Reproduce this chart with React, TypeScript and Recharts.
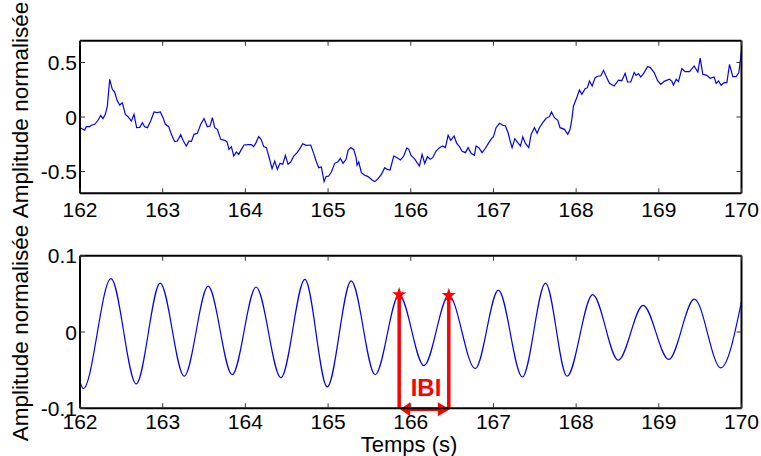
import { ComposedChart, Line, XAxis, YAxis, ReferenceLine, ReferenceDot } from 'recharts';

const FONT = '"Liberation Sans", Arial, Helvetica, sans-serif';
const BLUE = '#0000ff';
const RED = '#ff0000';
const TICK_LEN = 5;

// time axis (s)
const timeDomain = [162, 170];
const timeTicks = [162, 163, 164, 165, 166, 167, 168, 169, 170];

// top panel: raw signal
const rawDomain = [-0.7, 0.7];
const rawTicks = [-0.5, 0, 0.5];
const rawTime = [
  162.0, 162.056, 162.077, 162.117, 162.137, 162.177, 162.218, 162.25, 162.278, 162.306,
  162.331, 162.359, 162.391, 162.419, 162.448, 162.48, 162.512, 162.548, 162.581, 162.621,
  162.653, 162.685, 162.722, 162.754, 162.782, 162.815, 162.855, 162.895, 162.935, 162.972,
  163.004, 163.032, 163.073, 163.105, 163.145, 163.177, 163.218, 163.25, 163.286, 163.319,
  163.347, 163.379, 163.419, 163.46, 163.5, 163.54, 163.573, 163.601, 163.629, 163.661,
  163.702, 163.75, 163.778, 163.802, 163.831, 163.859, 163.891, 163.919, 163.952, 163.984,
  164.04, 164.073, 164.1, 164.129, 164.161, 164.19, 164.222, 164.254, 164.282, 164.323,
  164.355, 164.387, 164.419, 164.452, 164.484, 164.516, 164.548, 164.585, 164.625, 164.653,
  164.694, 164.734, 164.79, 164.823, 164.855, 164.887, 164.919, 164.952, 164.976, 165.008,
  165.04, 165.081, 165.121, 165.149, 165.181, 165.218, 165.242, 165.274, 165.31, 165.339,
  165.351, 165.371, 165.403, 165.444, 165.484, 165.532, 165.565, 165.597, 165.645, 165.685,
  165.714, 165.75, 165.794, 165.835, 165.875, 165.915, 165.952, 165.976, 166.004, 166.044,
  166.105, 166.137, 166.169, 166.202, 166.234, 166.266, 166.306, 166.347, 166.387, 166.419,
  166.452, 166.484, 166.524, 166.556, 166.589, 166.621, 166.661, 166.694, 166.73, 166.77,
  166.79, 166.823, 166.863, 166.903, 166.944, 166.976, 167.0, 167.032, 167.073, 167.113,
  167.145, 167.177, 167.202, 167.226, 167.258, 167.294, 167.327, 167.355, 167.387, 167.427,
  167.456, 167.496, 167.528, 167.556, 167.597, 167.637, 167.677, 167.702, 167.738, 167.778,
  167.806, 167.859, 167.899, 167.927, 167.948, 167.968, 168.0, 168.04, 168.069, 168.109,
  168.137, 168.161, 168.194, 168.23, 168.27, 168.298, 168.331, 168.371, 168.403, 168.46,
  168.512, 168.552, 168.593, 168.621, 168.661, 168.702, 168.726, 168.754, 168.782, 168.823,
  168.863, 168.895, 168.944, 168.984, 169.024, 169.065, 169.129, 169.157, 169.177, 169.21,
  169.238, 169.278, 169.319, 169.371, 169.427, 169.472, 169.5, 169.532, 169.581, 169.621,
  169.669, 169.694, 169.722, 169.754, 169.79, 169.823, 169.855, 169.895, 169.935, 169.968,
  170.0,
];
const rawAmp = [
  -0.098, -0.12, -0.089, -0.089, -0.076, -0.067, -0.03, 0.015, -0.015, 0.024,
  0.1, 0.345, 0.254, 0.229, 0.153, 0.11, 0.131, 0.024, 0.003, -0.037,
  0.024, -0.098, -0.095, -0.052, -0.089, -0.098, -0.037, 0.046, 0.04, 0.046,
  -0.006, -0.067, -0.089, -0.159, -0.226, -0.22, -0.162, -0.22, -0.266, -0.22,
  -0.226, -0.159, -0.15, -0.067, -0.015, -0.089, -0.083, -0.006, -0.098, -0.113,
  -0.205, -0.214, -0.229, -0.297, -0.272, -0.358, -0.321, -0.343, -0.297, -0.257,
  -0.254, -0.254, -0.272, -0.235, -0.18, -0.205, -0.272, -0.281, -0.358, -0.474,
  -0.404, -0.48, -0.425, -0.434, -0.352, -0.434, -0.413, -0.358, -0.327, -0.297,
  -0.245, -0.26, -0.257, -0.327, -0.404, -0.465, -0.459, -0.593, -0.547, -0.541,
  -0.505, -0.425, -0.41, -0.379, -0.425, -0.388, -0.306, -0.281, -0.297, -0.373,
  -0.443, -0.413, -0.511, -0.535, -0.547, -0.578, -0.593, -0.572, -0.526, -0.465,
  -0.48, -0.486, -0.358, -0.373, -0.394, -0.358, -0.284, -0.297, -0.352, -0.382,
  -0.45, -0.343, -0.425, -0.364, -0.388, -0.373, -0.312, -0.281, -0.266, -0.281,
  -0.168, -0.214, -0.174, -0.242, -0.272, -0.315, -0.327, -0.281, -0.333, -0.352,
  -0.266, -0.281, -0.327, -0.287, -0.235, -0.199, -0.18, -0.098, -0.058, -0.076,
  -0.083, -0.144, -0.22, -0.281, -0.199, -0.235, -0.266, -0.183, -0.242, -0.281,
  -0.159, -0.098, -0.15, -0.098, -0.052, -0.012, 0.003, 0.046, -0.006, -0.031,
  -0.098, -0.113, -0.159, -0.113, -0.021, 0.101, 0.162, 0.248, 0.208, 0.26,
  0.269, 0.33, 0.284, 0.361, 0.376, 0.376, 0.428, 0.361, 0.309, 0.284,
  0.339, 0.333, 0.401, 0.321, 0.321, 0.407, 0.382, 0.398, 0.367, 0.407,
  0.462, 0.456, 0.407, 0.336, 0.3, 0.327, 0.346, 0.33, 0.294, 0.346,
  0.324, 0.443, 0.416, 0.416, 0.468, 0.413, 0.541, 0.391, 0.382, 0.355,
  0.367, 0.309, 0.33, 0.291, 0.315, 0.315, 0.483, 0.37, 0.37, 0.407,
  0.606,
];

// bottom panel: filtered pulse wave (peaks and troughs)
const pulseDomain = [-0.1, 0.1];
const pulseTicks = [-0.1, 0, 0.1];
const pulseTime = [
  162.0, 162.04, 162.375, 162.68, 162.97, 163.26, 163.55, 163.84, 164.13, 164.43,
  164.72, 164.99, 165.28, 165.57, 165.86, 166.16, 166.46, 166.78, 167.06, 167.35,
  167.63, 167.89, 168.2, 168.51, 168.81, 169.12, 169.43, 169.75, 170.0,
];
const pulseAmp = [
  -0.065, -0.074, 0.07, -0.068, 0.064, -0.058, 0.06, -0.056, 0.059, -0.06,
  0.069, -0.072, 0.067, -0.056, 0.049, -0.044, 0.048, -0.048, 0.055, -0.059,
  0.064, -0.058, 0.049, -0.037, 0.035, -0.036, 0.043, -0.047, 0.04,
];

// detected peaks used for the IBI annotation
const peakTime = [165.86, 166.46];
const peakAmp = [0.049, 0.048];

const rawData = rawTime.map((t, i) => ({ t, v: rawAmp[i] }));
const pulseData = pulseTime.map((t, i) => ({ t, v: pulseAmp[i] }));

const boxLine = { stroke: '#000', strokeWidth: 2 };

function BottomTick({ x, y, payload, labelDy }: any) {
  return (
    <g>
      <line x1={x} y1={y} x2={x} y2={y - TICK_LEN} stroke="#333" strokeWidth={1} />
      <text x={x} y={y + labelDy} textAnchor="middle" fontSize={21} fontFamily={FONT} fill="#000">
        {payload.value}
      </text>
    </g>
  );
}

function TopTick({ x, y }: any) {
  return <line x1={x} y1={y} x2={x} y2={y + TICK_LEN} stroke="#333" strokeWidth={1} />;
}

function LeftTick({ x, y, payload }: any) {
  return (
    <g>
      <line x1={x} y1={y} x2={x + TICK_LEN} y2={y} stroke="#333" strokeWidth={1} />
      <text x={x - 3} y={y} dy="0.36em" textAnchor="end" fontSize={21} fontFamily={FONT} fill="#000">
        {payload.value}
      </text>
    </g>
  );
}

function RightTick({ x, y }: any) {
  return <line x1={x} y1={y} x2={x - TICK_LEN} y2={y} stroke="#333" strokeWidth={1} />;
}

function YTitle({ px, py }: any) {
  return (
    <text
      x={px}
      y={py}
      transform={`rotate(-90 ${px} ${py})`}
      textAnchor="middle"
      fontSize={22.5}
      fontFamily={FONT}
      fill="#000"
    >
      Amplitude normalisée
    </text>
  );
}

function XTitle({ px, py }: any) {
  return (
    <text x={px} y={py} textAnchor="middle" fontSize={22} fontFamily={FONT} fill="#000">
      Temps (s)
    </text>
  );
}

function PeakStar({ cx, cy }: any) {
  const pts: string[] = [];
  for (let k = 0; k < 10; k++) {
    const r = k % 2 === 0 ? 7.5 : 3;
    const a = -Math.PI / 2 + (k * Math.PI) / 5;
    pts.push(`${cx + r * Math.cos(a)},${cy + r * Math.sin(a)}`);
  }
  return <polygon points={pts.join(' ')} fill={RED} />;
}

function IbiArrow({ x1, y1, x2 }: any) {
  const y = y1 + 1;
  const head = 11;
  const half = 7;
  return (
    <g>
      <line x1={x1 + head - 1} y1={y} x2={x2 - head + 1} y2={y} stroke={RED} strokeWidth={3.5} />
      <polygon points={`${x1 + 1},${y} ${x1 + head},${y - half} ${x1 + head},${y + half}`} fill={RED} />
      <polygon points={`${x2 + 1},${y} ${x2 - head},${y - half} ${x2 - head},${y + half}`} fill={RED} />
      <text
        x={(x1 + x2) / 2 + 2}
        y={y1 - 12}
        textAnchor="middle"
        fontSize={24}
        fontWeight="bold"
        fontFamily={FONT}
        fill={RED}
      >
        IBI
      </text>
    </g>
  );
}

function Axes({ domain, ticks, labelDy, bottomHeight, title, xTitle }: any) {
  return [
    <XAxis
      key="xb"
      xAxisId="b"
      dataKey="t"
      type="number"
      domain={timeDomain}
      ticks={timeTicks}
      interval={0}
      allowDataOverflow
      axisLine={boxLine}
      tickLine={false}
      tickSize={0}
      tickMargin={0}
      height={bottomHeight}
      tick={<BottomTick labelDy={labelDy} />}
      label={xTitle}
    />,
    <XAxis
      key="xt"
      xAxisId="t"
      orientation="top"
      dataKey="t"
      type="number"
      domain={timeDomain}
      ticks={timeTicks}
      interval={0}
      allowDataOverflow
      axisLine={boxLine}
      tickLine={false}
      tickSize={0}
      tickMargin={0}
      height={1}
      tick={<TopTick />}
    />,
    <YAxis
      key="yl"
      yAxisId="l"
      dataKey="v"
      type="number"
      domain={domain}
      ticks={ticks}
      interval={0}
      allowDataOverflow
      axisLine={boxLine}
      tickLine={false}
      tickSize={0}
      tickMargin={0}
      width={60}
      tick={<LeftTick />}
      label={title}
    />,
    <YAxis
      key="yr"
      yAxisId="r"
      orientation="right"
      dataKey="v"
      type="number"
      domain={domain}
      ticks={ticks}
      interval={0}
      allowDataOverflow
      axisLine={boxLine}
      tickLine={false}
      tickSize={0}
      tickMargin={0}
      width={19.5}
      tick={<RightTick />}
    />,
  ];
}

export default function App() {
  return (
    <div
      style={{
        position: 'absolute',
        left: 0,
        top: 0,
        width: 761,
        height: 456,
        background: '#fff',
        overflow: 'hidden',
      }}
    >
      <div style={{ position: 'absolute', left: 0, top: 0 }}>
        <ComposedChart width={761} height={222} margin={{ top: 39.7, right: 0, bottom: 0, left: 20 }}>
          {Axes({
            domain: rawDomain,
            ticks: rawTicks,
            labelDy: 23.5,
            bottomHeight: 28.7,
            title: <YTitle px={28} py={110} />,
          })}
          <Line
            xAxisId="b"
            yAxisId="l"
            data={rawData}
            dataKey="v"
            type="linear"
            stroke={BLUE}
            strokeWidth={1.2}
            dot={false}
            activeDot={false}
            isAnimationActive={false}
          />
        </ComposedChart>
      </div>
      <div style={{ position: 'absolute', left: 0, top: 222 }}>
        <ComposedChart width={761} height={234} margin={{ top: 32.7, right: 0, bottom: 0, left: 20 }}>
          {Axes({
            domain: pulseDomain,
            ticks: pulseTicks,
            labelDy: 21,
            bottomHeight: 47.7,
            title: <YTitle px={28} py={111} />,
            xTitle: <XTitle px={409} py={230} />,
          })}
          <Line
            xAxisId="b"
            yAxisId="l"
            data={pulseData}
            dataKey="v"
            type="monotone"
            stroke={BLUE}
            strokeWidth={1.2}
            dot={false}
            activeDot={false}
            isAnimationActive={false}
          />
          {peakTime.map((t, i) => (
            <ReferenceLine
              key={`v${i}`}
              xAxisId="b"
              yAxisId="l"
              ifOverflow="visible"
              segment={[
                { x: t, y: peakAmp[i] },
                { x: t, y: pulseDomain[0] },
              ]}
              stroke={RED}
              strokeWidth={3.5}
            />
          ))}
          <ReferenceLine
            xAxisId="b"
            yAxisId="l"
            ifOverflow="visible"
            segment={[
              { x: peakTime[0], y: pulseDomain[0] },
              { x: peakTime[1], y: pulseDomain[0] },
            ]}
            shape={IbiArrow}
          />
          {peakTime.map((t, i) => (
            <ReferenceDot
              key={`s${i}`}
              xAxisId="b"
              yAxisId="l"
              x={t}
              y={peakAmp[i]}
              ifOverflow="visible"
              shape={PeakStar}
            />
          ))}
        </ComposedChart>
      </div>
    </div>
  );
}
